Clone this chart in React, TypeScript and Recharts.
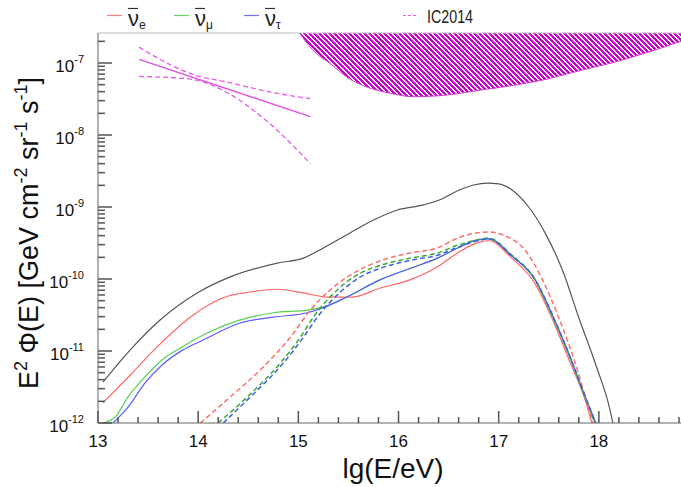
import React from 'react';
import { ComposedChart, Line, Area, XAxis, YAxis } from 'recharts';

// ---------- data (lg(E/eV), E^2 Phi in GeV cm^-2 sr^-1 s^-1) ----------
const totalLgE = [13.05, 13.32, 13.62, 13.99, 14.32, 14.79, 15.05, 15.25, 15.52, 15.75, 15.99, 16.25, 16.42, 16.59, 16.75, 16.89, 17.0, 17.13, 17.30, 17.47, 17.64, 17.80, 17.97, 18.11, 18.14];
const totalFlux = [3.7e-12, 1.03e-11, 2.7e-11, 6.4e-11, 1.07e-10, 1.66e-10, 1.95e-10, 2.7e-10, 4.4e-10, 6.6e-10, 9.1e-10, 1.07e-9, 1.27e-9, 1.68e-9, 2.02e-9, 2.14e-9, 2.1e-9, 1.74e-9, 1.0e-9, 4.2e-10, 1.29e-10, 2.9e-11, 6.4e-12, 1.55e-12, 1.0e-12];

const nueLgE = [13.05, 13.32, 13.59, 13.92, 14.25, 14.52, 14.79, 15.05, 15.30, 15.53, 15.82, 16.12, 16.39, 16.59, 16.79, 16.90, 17.13, 17.37, 17.53, 17.70, 17.87, 17.93];
const nueFlux = [1.9e-12, 4.6e-12, 1.14e-11, 2.95e-11, 5.5e-11, 6.6e-11, 7.2e-11, 6.4e-11, 5.6e-11, 5.6e-11, 7.5e-11, 9.8e-11, 1.48e-10, 2.3e-10, 3.2e-10, 3.4e-10, 1.95e-10, 8.3e-11, 2.9e-11, 7.7e-12, 1.95e-12, 1.0e-12];

const numuLgE = [13.05, 13.17, 13.30, 13.47, 13.64, 13.84, 14.09, 14.42, 14.75, 15.09, 15.25, 15.47, 15.82, 16.12, 16.39, 16.59, 16.79, 16.90, 17.13, 17.37, 17.53, 17.70, 17.87, 17.96];
const numuFlux = [1.0e-12, 1.2e-12, 2.3e-12, 4.4e-12, 7.5e-12, 1.14e-11, 1.78e-11, 2.7e-11, 3.4e-11, 3.7e-11, 4.1e-11, 5.5e-11, 9.8e-11, 1.41e-10, 1.95e-10, 2.7e-10, 3.5e-10, 3.6e-10, 2.1e-10, 9.3e-11, 3.16e-11, 8.8e-12, 2.1e-12, 1.0e-12];

const nutauLgE = [13.15, 13.30, 13.47, 13.64, 13.84, 14.04, 14.42, 14.75, 15.09, 15.25, 15.47, 15.82, 16.12, 16.39, 16.59, 16.79, 16.90, 17.13, 17.37, 17.53, 17.70, 17.87, 17.97];
const nutauFlux = [1.0e-12, 1.66e-12, 3.6e-12, 6.4e-12, 1.02e-11, 1.4e-11, 2.45e-11, 2.95e-11, 3.4e-11, 4.0e-11, 5.5e-11, 9.8e-11, 1.41e-10, 1.95e-10, 2.7e-10, 3.5e-10, 3.6e-10, 2.1e-10, 9.5e-11, 3.3e-11, 9.2e-12, 2.2e-12, 1.0e-12];

const nueDashLgE = [14.02, 14.32, 14.65, 14.92, 15.12, 15.32, 15.55, 15.82, 16.12, 16.39, 16.59, 16.79, 16.90, 17.06, 17.27, 17.43, 17.60, 17.77, 17.90, 17.94];
const nueDashFlux = [1.0e-12, 2.3e-12, 6.0e-12, 1.55e-11, 3.7e-11, 7.1e-11, 1.2e-10, 1.8e-10, 2.3e-10, 2.7e-10, 3.7e-10, 4.4e-10, 4.5e-10, 4.0e-10, 2.45e-10, 1.02e-10, 2.9e-11, 6.4e-12, 1.55e-12, 1.0e-12];

const numuDashLgE = [14.20, 14.49, 14.82, 15.02, 15.15, 15.39, 15.59, 15.82, 16.12, 16.39, 16.59, 16.79, 16.90, 17.13, 17.37, 17.53, 17.70, 17.87, 17.96];
const numuDashFlux = [1.0e-12, 2.3e-12, 6.8e-12, 1.55e-11, 2.95e-11, 7.1e-11, 1.15e-10, 1.55e-10, 1.95e-10, 2.3e-10, 2.95e-10, 3.5e-10, 3.7e-10, 2.15e-10, 9.5e-11, 3.3e-11, 9.0e-12, 2.2e-12, 1.0e-12];

const nutauDashLgE = [14.25, 14.52, 14.85, 15.05, 15.19, 15.42, 15.62, 15.82, 16.12, 16.39, 16.59, 16.79, 16.90, 17.13, 17.37, 17.53, 17.70, 17.87, 17.97];
const nutauDashFlux = [1.0e-12, 2.3e-12, 6.8e-12, 1.55e-11, 2.95e-11, 6.6e-11, 1.07e-10, 1.41e-10, 1.82e-10, 2.14e-10, 2.75e-10, 3.4e-10, 3.6e-10, 2.1e-10, 9.5e-11, 3.3e-11, 9.2e-12, 2.2e-12, 1.0e-12];

// IceCube 2014 astrophysical fit (best fit + band)
const icLgE = [13.41, 15.12];
const icFlux = [1.12e-7, 1.8e-8];
const icBandLgE = [13.41, 13.7, 13.95, 14.3, 14.7, 15.12];
const icUpper = [1.66e-7, 9.8e-8, 6.9e-8, 5.4e-8, 4.0e-8, 3.2e-8];
const icLower = [6.5e-8, 6.3e-8, 5.9e-8, 3.8e-8, 1.5e-8, 4.0e-9];

// IC2014 upper-limit region (lower boundary; extends above the frame)
const limitLgE = [15.0, 15.15, 15.32, 15.49, 15.69, 15.92, 16.15, 16.49, 16.82, 17.15, 17.49, 17.82, 18.15, 18.49, 18.82];
const limitLow = [2.75e-7, 1.48e-7, 9.8e-8, 6.3e-8, 4.6e-8, 3.8e-8, 3.4e-8, 3.6e-8, 4.2e-8, 4.9e-8, 6.0e-8, 7.9e-8, 1.02e-7, 1.41e-7, 2.0e-7];
const LIMIT_TOP = 1e-5;

// axis ticks
const xMajor = [13, 14, 15, 16, 17, 18];
const xSub = [0, 0.2, 0.4, 0.6, 0.8];
const yDecades = [-12, -11, -10, -9, -8, -7];
const yMantissa = [1, 2, 3, 4, 5, 6, 7, 8, 9];

const X_DOMAIN: [number, number] = [13, 18.82];
const Y_DOMAIN: [number, number] = [1e-12, 2.61e-7];

const xTicks = xMajor.flatMap((m) => xSub.map((s) => Number((m + s).toFixed(1)))).filter((v) => v <= X_DOMAIN[1]);
const yTicks = yDecades.flatMap((d) => yMantissa.map((m) => Number((m * Math.pow(10, d)).toPrecision(3)))).filter((v) => v <= Y_DOMAIN[1]);

const zip = (xs: number[], ys: number[]) => xs.map((x, i) => ({ x, y: ys[i] }));

const FONT = '"Liberation Sans", Arial, Helvetica, sans-serif';
const AXIS_COLOR = '#666666';
const TICK_COLOR = '#555555';

const XTickComp = (props: any) => {
  const { x, y, payload } = props;
  const v = Number(payload.value);
  const major = Math.abs(v - Math.round(v)) < 1e-6;
  const len = major ? 12 : 6;
  return (
    <g>
      <line x1={x} x2={x} y1={y} y2={y - len} stroke={TICK_COLOR} strokeWidth={1.5} />
      {major && (
        <text x={x} y={y + 24} textAnchor="middle" fontSize={17} fontFamily={FONT} fill="#111">
          {String(Math.round(v))}
        </text>
      )}
    </g>
  );
};

const YTickComp = (props: any) => {
  const { x, y, payload } = props;
  const v = Number(payload.value);
  const lg = Math.log10(v);
  const e = Math.round(lg);
  const major = Math.abs(lg - e) < 1e-6;
  const len = major ? 14 : 7;
  return (
    <g>
      <line x1={x} x2={x + len} y1={y} y2={y} stroke={TICK_COLOR} strokeWidth={1.5} />
      {major && (
        <text x={x - 14} y={y + 9} textAnchor="end" fontFamily={FONT} fill="#111">
          <tspan fontSize={17}>10</tspan>
          <tspan fontSize={11} dy={-9}>{String(e)}</tspan>
        </text>
      )}
    </g>
  );
};

const YLabel = () => {
  const cx = 38;
  const cy = 233;
  return (
    <text x={cx} y={cy} transform={`rotate(-90, ${cx}, ${cy})`} textAnchor="middle" fontFamily={FONT} fill="#111" fontSize={27}>
      <tspan>E</tspan>
      <tspan fontSize={18} dy={-11}>2</tspan>
      <tspan dy={11}> Φ(E) [GeV cm</tspan>
      <tspan fontSize={18} dy={-11}>-2</tspan>
      <tspan dy={11}> sr</tspan>
      <tspan fontSize={18} dy={-11}>-1</tspan>
      <tspan dy={11}> s</tspan>
      <tspan fontSize={18} dy={-11}>-1</tspan>
      <tspan dy={11}>]</tspan>
    </text>
  );
};

const XLabel = () => (
  <text x={393} y={478} textAnchor="middle" fontFamily={FONT} fill="#111" fontSize={28}>
    lg(E/eV)
  </text>
);

const LegendBar = () => {
  const nu = (x: number, sub: string, color: string) => (
    <g key={sub}>
      <line x1={x - 21} x2={x - 6} y1={15.5} y2={15.5} stroke={color} strokeWidth={1.2} />
      <line x1={x} x2={x + 10} y1={8.5} y2={8.5} stroke="#333" strokeWidth={1.2} />
      <text x={x} y={26} fontFamily={FONT} fontSize={22} fill="#222">ν</text>
      <text x={x + 11} y={29} fontFamily={FONT} fontSize={12} fill="#222">{sub}</text>
    </g>
  );
  return (
    <svg width={681} height={33} style={{ position: 'absolute', left: 0, top: 0 }}>
      {nu(128, 'e', '#ff7a7a')}
      {nu(195, 'μ', '#66d866')}
      {nu(265, 'τ', '#6f6fff')}
      <line x1={403} x2={418} y1={15.5} y2={15.5} stroke="#e060e0" strokeWidth={1.2} strokeDasharray="3 2" />
      <text x={427} y={23} fontFamily={FONT} fontSize={18} fill="#222" textLength={46} lengthAdjust="spacingAndGlyphs">IC2014</text>
    </svg>
  );
};

const hatchCells: { x: number; y: number }[] = [];
for (let r = 0; r < 5; r++) {
  for (let k = 0; k < 3; k++) hatchCells.push({ x: (r + k) % 5, y: r });
}

export default function App() {
  const limitData = limitLgE.map((x, i) => ({ x, band: [limitLow[i], LIMIT_TOP] }));
  const common = { isAnimationActive: false, dot: false, activeDot: false, type: 'monotone' as const, dataKey: 'y', connectNulls: true };
  return (
    <div style={{ position: 'absolute', left: 0, top: 0, width: 681, height: 487, background: '#fff' }}>
      <ComposedChart width={681} height={487} margin={{ top: 32, right: 0, bottom: 34, left: 68 }}>
        <defs>
          <pattern id="icHatch" patternUnits="userSpaceOnUse" width={5} height={5}>
            {hatchCells.map((c, i) => (
              <rect key={i} x={c.x} y={c.y} width={1} height={1} fill="#cc00cc" shapeRendering="crispEdges" />
            ))}
          </pattern>
        </defs>
        <XAxis
          type="number"
          dataKey="x"
          domain={X_DOMAIN}
          ticks={xTicks}
          interval={0}
          tickLine={false}
          tickSize={0}
          tickMargin={0}
          tick={(p: any) => <XTickComp {...p} />}
          height={30}
          stroke={AXIS_COLOR}
          label={<XLabel />}
        />
        <XAxis xAxisId="top" orientation="top" type="number" dataKey="x" domain={X_DOMAIN} tick={false} tickLine={false} height={1} stroke="#bdbdbd" />
        <YAxis
          type="number"
          scale="log"
          domain={Y_DOMAIN}
          allowDataOverflow
          ticks={yTicks}
          interval={0}
          tickLine={false}
          tickSize={0}
          tickMargin={0}
          tick={(p: any) => <YTickComp {...p} />}
          width={30}
          stroke={AXIS_COLOR}
          label={<YLabel />}
        />
        <Area data={limitData} dataKey="band" type="monotone" fill="url(#icHatch)" fillOpacity={1} stroke="#d23cd2" strokeWidth={1} isAnimationActive={false} dot={false} activeDot={false} />
        <Line {...common} data={zip(icBandLgE, icUpper)} stroke="#e45be4" strokeWidth={1.3} strokeDasharray="5 3" />
        <Line {...common} data={zip(icBandLgE, icLower)} stroke="#e45be4" strokeWidth={1.3} strokeDasharray="5 3" />
        <Line {...common} type="linear" data={zip(icLgE, icFlux)} stroke="#e04ee0" strokeWidth={1.3} />
        <Line {...common} data={zip(totalLgE, totalFlux)} stroke="#555555" strokeWidth={1.2} />
        <Line {...common} data={zip(nueLgE, nueFlux)} stroke="#ff6464" strokeWidth={1.2} />
        <Line {...common} data={zip(numuLgE, numuFlux)} stroke="#55d055" strokeWidth={1.2} />
        <Line {...common} data={zip(nutauLgE, nutauFlux)} stroke="#5a5aff" strokeWidth={1.2} />
        <Line {...common} data={zip(nueDashLgE, nueDashFlux)} stroke="#ff6e6e" strokeWidth={1.5} strokeDasharray="5 3" />
        <Line {...common} data={zip(numuDashLgE, numuDashFlux)} stroke="#3aa83a" strokeWidth={1.5} strokeDasharray="5 3" />
        <Line {...common} data={zip(nutauDashLgE, nutauDashFlux)} stroke="#3d62e0" strokeWidth={1.5} strokeDasharray="5 3" />
      </ComposedChart>
      <LegendBar />
    </div>
  );
}
